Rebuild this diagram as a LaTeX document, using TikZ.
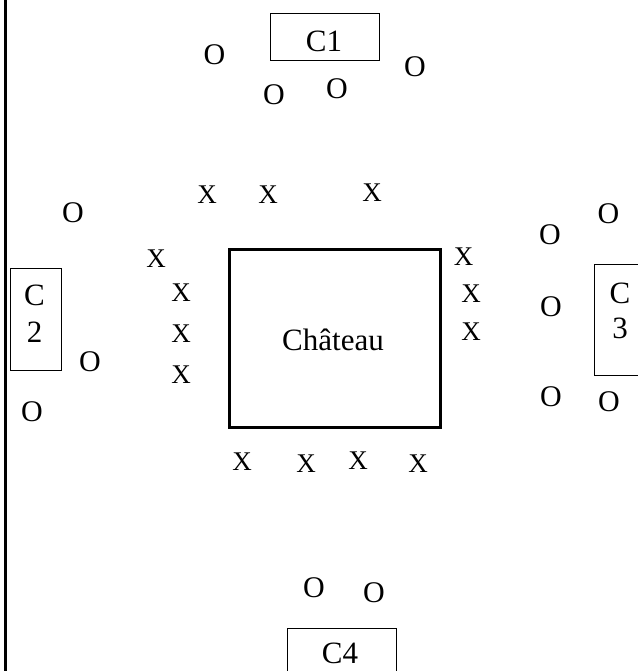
\documentclass[tikz,border=0pt]{standalone}
\usepackage{fontspec}
\setmainfont{Liberation Serif}
\tikzset{
  markx/.style={inner sep=0pt, outer sep=0pt, anchor=center, font=\fontsize{27}{32}\selectfont},
  marko/.style={inner sep=0pt, outer sep=0pt, anchor=center, font=\fontsize{30}{35}\selectfont},
  lbl/.style={inner sep=0pt, outer sep=0pt, anchor=base, font=\fontsize{31}{37}\selectfont},
  thinbox/.style={draw=black, line width=1pt},
  castlebox/.style={draw=black, line width=3pt}
}
\begin{document}
\begin{tikzpicture}[x=1pt, y=-1pt]
\useasboundingbox (0,0) rectangle (637,671);
% left border
\draw[line width=3.3pt] (5.7,0) -- (5.7,671);
% boxes
\draw[thinbox] (270.7,14) rectangle (379,61);
\draw[thinbox] (10.7,268) rectangle (61.7,370);
\draw[thinbox] (640,264) -- (594,264) -- (594,375) -- (640,375);
\draw[thinbox] (287,680) -- (287,628) -- (396,628) -- (396,680);
\draw[castlebox] (229.5,249.2) rectangle (440,427.5);
% labels
\node[lbl] (c1) at (324,52) {C1};
\node[lbl] (c2a) at (34.5,305) {C};
\node[lbl] (c2b) at (34.5,342) {2};
\node[lbl] (c3a) at (620,303) {C};
\node[lbl] (c3b) at (620,338) {3};
\node[lbl] (c4) at (340,663) {C4};
\node[lbl] (chateau) at (333,350) {Château};
% O marks
\node[marko] (o1) at (214.5,55) {O};
\node[marko] (o2) at (415,67) {O};
\node[marko] (o3) at (274,95) {O};
\node[marko] (o4) at (337,89) {O};
\node[marko] (o5) at (73,213) {O};
\node[marko] (o6) at (608.5,213.5) {O};
\node[marko] (o7) at (550,235) {O};
\node[marko] (o8) at (551,307) {O};
\node[marko] (o9) at (551,397) {O};
\node[marko] (o10) at (609,402) {O};
\node[marko] (o11) at (90,361.5) {O};
\node[marko] (o12) at (32,412) {O};
\node[marko] (o13) at (314,588) {O};
\node[marko] (o14) at (374,593) {O};
% X marks
\node[markx] (x1) at (207,195) {X};
\node[markx] (x2) at (268,195) {X};
\node[markx] (x3) at (372,193) {X};
\node[markx] (x4) at (156,259) {X};
\node[markx] (x5) at (181,292.5) {X};
\node[markx] (x6) at (181,334) {X};
\node[markx] (x7) at (181,375) {X};
\node[markx] (x8) at (463.5,256.5) {X};
\node[markx] (x9) at (471,293.5) {X};
\node[markx] (x10) at (471,331.5) {X};
\node[markx] (x11) at (242,462) {X};
\node[markx] (x12) at (306,464) {X};
\node[markx] (x13) at (358,461) {X};
\node[markx] (x14) at (418,464) {X};
\end{tikzpicture}
\end{document}
